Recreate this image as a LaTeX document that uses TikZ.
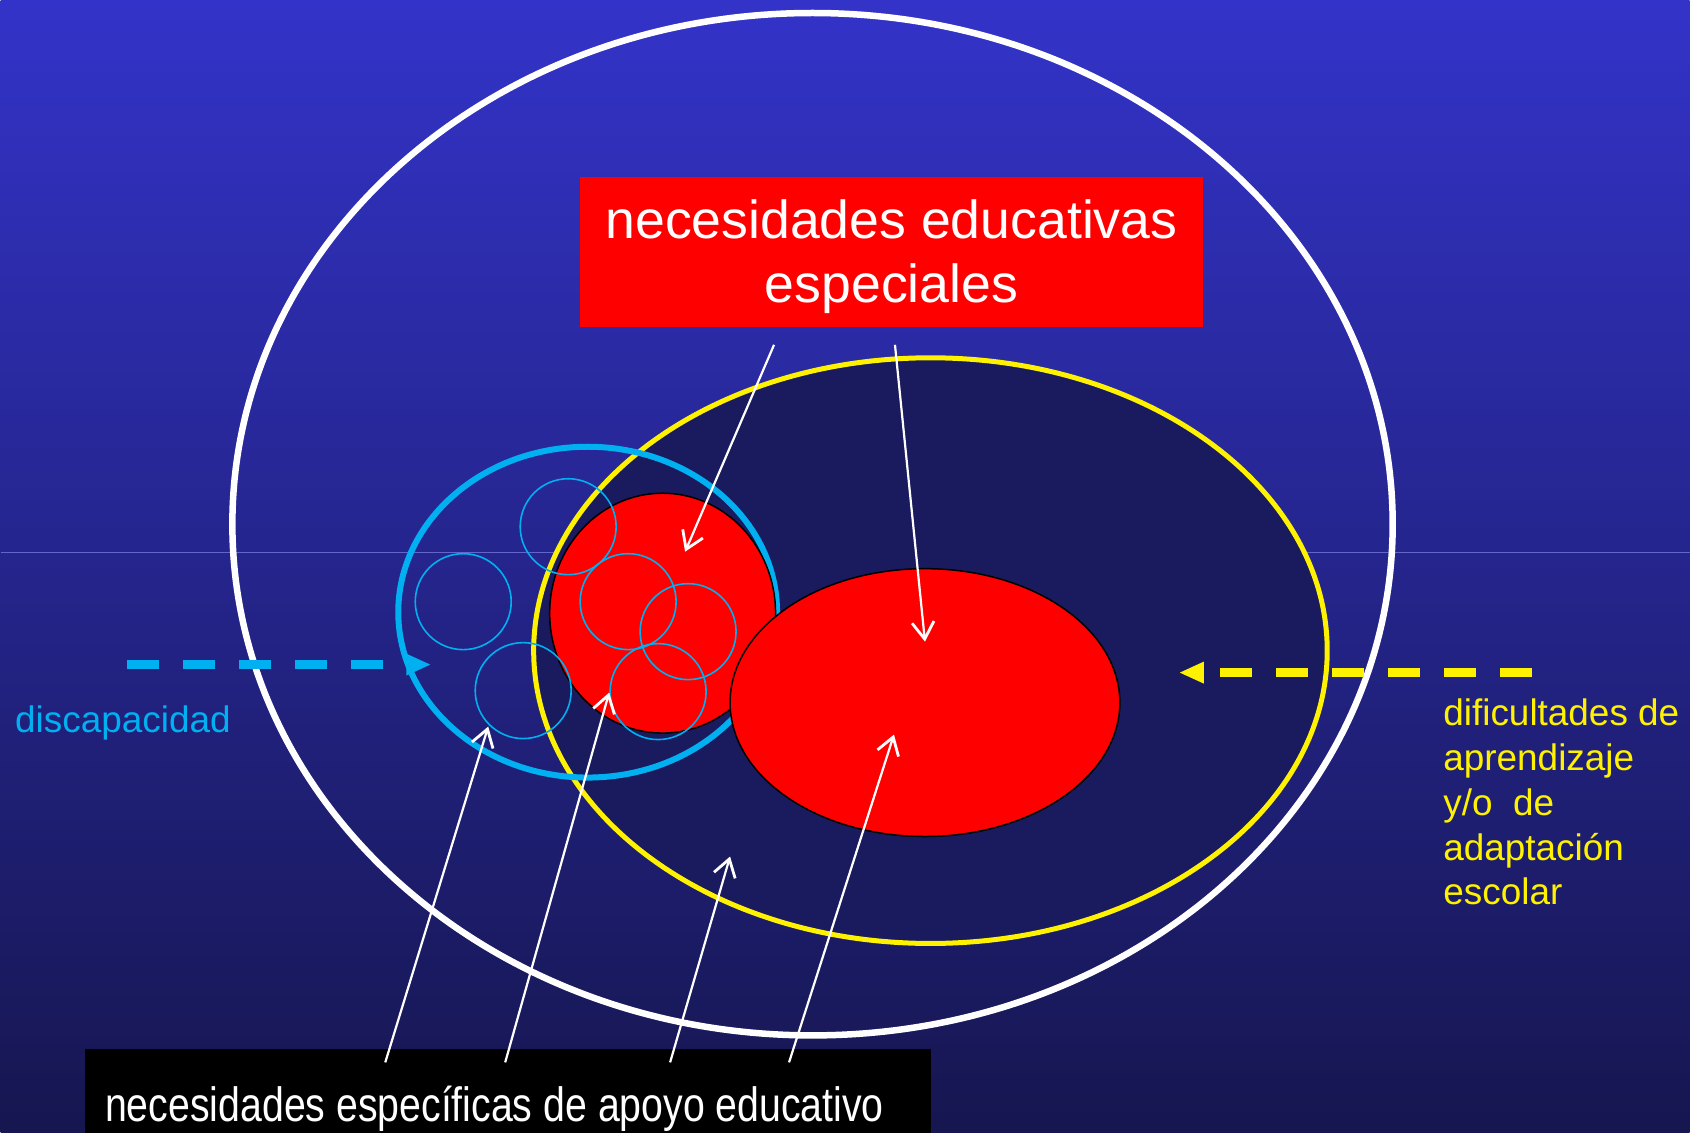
\documentclass[tikz,border=0pt]{standalone}
\usepackage{fontspec}
\setmainfont{Liberation Sans}
\usetikzlibrary{arrows.meta}
\definecolor{bgtop}{RGB}{51,51,201}
\definecolor{bgbot}{RGB}{22,22,80}
\definecolor{navy}{RGB}{26,26,94}
\definecolor{sky}{RGB}{0,176,240}
\definecolor{seam}{RGB}{100,100,205}

\begin{document}
\begin{tikzpicture}[x=0.01cm,y=-0.01cm,
  wa/.style={white,line width=0.022cm,-{Straight Barb[length=0.17cm,width=0.22cm,line width=0.028cm]}},
  dsh/.style={line width=0.09cm,dash pattern=on 0.32cm off 0.24cm,-{Triangle[length=0.24cm,width=0.22cm,line width=0pt]}},
  redset/.style={fill=red,draw=black,line width=0.015cm},
  box/.style={fill=#1,inner sep=0pt},
  lab/.style={inner sep=0pt,font=\fontsize{10.5pt}{12.8pt}\selectfont}]
  % background
  \shade[top color=bgtop,bottom color=bgbot] (0,0) rectangle (1690,1133);
  \draw[seam,line width=0.01cm] (0,553) -- (1690,553);
  \useasboundingbox (0,0) rectangle (1690,1133);
  % the sets
  \draw[white,line width=0.065cm] (812.5,524.5) ellipse [x radius=580.5,y radius=511.5];
  \draw[yellow,fill=navy,line width=0.05cm] (930.5,651) ellipse [x radius=397,y radius=293];
  \draw[sky,line width=0.06cm] (587.5,612.5) ellipse [x radius=189.5,y radius=165.5];
  \draw[redset] (662.5,613.5) ellipse [x radius=113,y radius=120];
  \draw[redset] (925,703) ellipse [x radius=195,y radius=134];
  \foreach \x/\y in {568/527,463/602,523/691,628/602,688/632,658/692}
    \draw[sky,line width=0.016cm] (\x,\y) circle [radius=48];
  % labels
  \node[box=red,minimum width=6.23cm,minimum height=1.5cm] (nee) at (891.5,252) {};
  \node[inner sep=0pt,white,align=center,font=\fontsize{15.25pt}{18.2pt}\selectfont] (neet) at (891.5,257) {necesidades educativas\\especiales};
  \node[box=black,anchor=north west,minimum width=8.46cm,minimum height=0.84cm] (neae) at (84,1049) {};
  \node[inner sep=0pt,white,anchor=base west,font=\fontsize{13.7pt}{16pt}\selectfont] (neaet) at (104,1122) {\scalebox{0.815}[1]{necesidades específicas de apoyo educativo}};
  \node[lab,sky,anchor=base west] (disc) at (14,733) {discapacidad};
  \node[lab,yellow,anchor=north west,align=left] (dif) at (1443,698) {dificultades de\\aprendizaje\\y/o\ \ de\\adaptación\\escolar};
  % arrows
  \coordinate (a1) at (774,345);  \coordinate (t1) at (685,552);
  \coordinate (a2) at (895,345);  \coordinate (t2) at (925,642);
  \coordinate (b1) at (385,1063); \coordinate (e1) at (488,727);
  \coordinate (b2) at (505,1063); \coordinate (e2) at (609,693);
  \coordinate (b3) at (670,1063); \coordinate (e3) at (730,857);
  \coordinate (b4) at (789,1063); \coordinate (e4) at (894,735);
  \draw[wa] (a1) -- (t1);
  \draw[wa] (a2) -- (t2);
  \foreach \i in {1,...,4}
    \draw[wa] (b\i) -- (e\i);
  \coordinate (c0) at (127,665);  \coordinate (c1) at (430,665);
  \coordinate (y0) at (1532,673); \coordinate (y1) at (1180,673);
  \draw[dsh,sky] (c0) -- (c1);
  \draw[dsh,yellow] (y0) -- (y1);
\end{tikzpicture}
\end{document}
